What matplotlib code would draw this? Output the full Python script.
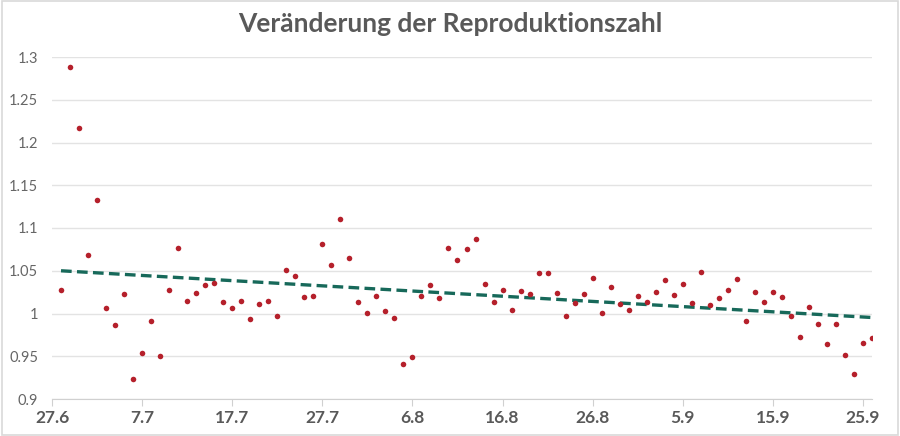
#!/usr/bin/env python3
"""Veränderung der Reproduktionszahl - daily values with linear trend."""

import numpy as np
import matplotlib
matplotlib.use('Agg')
import matplotlib.pyplot as plt

plt.rcParams['font.family'] = ['Lato', 'DejaVu Sans']

# day 0 = 27.6, one value per day from 28.6 to 26.9
days = list(range(1, 92))
r_values = [
    1.027, 1.288, 1.217, 1.069, 1.133, 1.007, 0.986, 1.023, 0.923, 0.954,
    0.991, 0.950, 1.027, 1.077, 1.015, 1.024, 1.033, 1.036, 1.013, 1.006,
    1.015, 0.994, 1.011, 1.015, 0.997, 1.051, 1.044, 1.019, 1.020, 1.081,
    1.057, 1.110, 1.065, 1.014, 1.001, 1.021, 1.003, 0.995, 0.941, 0.949,
    1.020, 1.033, 1.018, 1.077, 1.063, 1.075, 1.087, 1.035, 1.013, 1.027,
    1.004, 1.026, 1.023, 1.047, 1.047, 1.024, 0.997, 1.012, 1.023, 1.041,
    1.001, 1.031, 1.011, 1.004, 1.020, 1.014, 1.025, 1.039, 1.022, 1.035,
    1.012, 1.049, 1.010, 1.018, 1.027, 1.040, 0.991, 1.025, 1.013, 1.025,
    1.019, 0.997, 0.972, 1.008, 0.988, 0.964, 0.988, 0.952, 0.929, 0.966,
    0.971,
]
tick_days = [0, 10, 20, 30, 40, 50, 60, 70, 80, 90]
tick_labels = ['27.6', '7.7', '17.7', '27.7', '6.8', '16.8', '26.8', '5.9', '15.9', '25.9']
y_ticks = [0.9, 0.95, 1.0, 1.05, 1.1, 1.15, 1.2, 1.25, 1.3]
y_labels = ['0.9', '0.95', '1', '1.05', '1.1', '1.15', '1.2', '1.25', '1.3']

fig = plt.figure(figsize=(9, 4.36), dpi=100)
ax = fig.add_axes([52 / 900, 1 - 399 / 436, 820 / 900, 342 / 436])

# linear trend (Excel-style trendline)
x = np.array(days)
slope, intercept = np.polyfit(x, np.array(r_values), 1)
ax.plot(x, slope * x + intercept, color='#17695a', linestyle=(0, (3.2, 1.6)),
        linewidth=2.4, zorder=2)

ax.scatter(days, r_values, s=16, color='#b5202b', zorder=3, linewidths=0)

ax.set_xlim(0, 91)
ax.set_ylim(0.9, 1.3)
ax.set_yticks(y_ticks)
ax.set_yticklabels(y_labels)
ax.set_xticks(tick_days)
ax.set_xticklabels(tick_labels, fontweight='bold')
ax.grid(axis='y', color='#e3e3e3', linewidth=1)
ax.set_axisbelow(True)

for side in ['left', 'right', 'top']:
    ax.spines[side].set_visible(False)
ax.spines['bottom'].set_color('#d0d0d0')
ax.tick_params(axis='y', length=0, labelsize=10.5, labelcolor='#666666', pad=10)
ax.tick_params(axis='x', length=5, color='#d0d0d0', labelsize=12.5,
               labelcolor='#595959', pad=3)

fig.text(0.5, 0.945, 'Veränderung der Reproduktionszahl', ha='center', va='center',
         fontsize=19, fontweight='bold', color='#595959')

# light frame around the chart
fig.patches.append(plt.Rectangle((0.002, 0.003), 0.996, 0.994, transform=fig.transFigure,
                                 fill=False, edgecolor='#d9d9d9', linewidth=1.2))

plt.savefig('out.png', dpi=100)
